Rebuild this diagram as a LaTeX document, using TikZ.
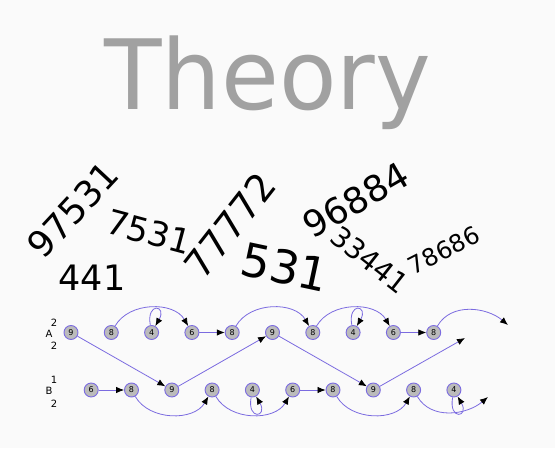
\documentclass[tikz,border=0pt]{standalone}
\usepackage{fontspec}
\setmainfont{DejaVu Sans}
\usetikzlibrary{arrows.meta}
\definecolor{linkc}{HTML}{7B6BE0}
\definecolor{numfill}{HTML}{BBBBBB}
\definecolor{bgc}{HTML}{FAFAFA}
\tikzset{
  num/.style={circle, fill=numfill, draw=linkc, line width=0.9pt, minimum size=14pt,
    inner sep=0pt, font=\fontsize{8}{8}\selectfont},
  link/.style={draw=linkc, line width=0.8pt, -{Latex[length=8pt,width=6.5pt,color=black]}},
  side/.style={font=\fontsize{10}{10}\selectfont, inner sep=0pt},
  big/.style={font=\fontsize{#1}{#1}\selectfont, inner sep=0pt}
}
\begin{document}
\begin{tikzpicture}[x=1pt,y=1pt]
  \fill[bgc] (0,0) rectangle (555,448);
  \useasboundingbox (0,0) rectangle (555,448);

  \node[big=97, xscale=0.97, text=black!37, anchor=base] (title) at (267.5,338) {Theory};

  \node[big=36, rotate=47] (n1) at (73,238) {97531};
  \node[big=35] (n2) at (92,170) {441};
  \node[big=34, rotate=-15] (n3) at (149,216) {7531};
  \node[big=38, rotate=52] (n4) at (230,223) {77772};
  \node[big=46, rotate=-12] (n5) at (285,181) {531};
  \node[big=36, rotate=30] (n6) at (356,248) {96884};
  \node[big=28, rotate=-38] (n7) at (370,188) {33441};
  \node[big=24, rotate=27] (n8) at (444,198) {78686};

  \node[side] (la) at (49,114) {A};
  \node[side] (la1) at (54,125.5) {2};
  \node[side] (la2) at (54,102) {2};
  \node[side] (lb) at (49,57.5) {B};
  \node[side] (lb1) at (54,68) {1};
  \node[side] (lb2) at (54,44) {2};

  \foreach \d [count=\i from 0] in {9,8,4,6,8,9,8,4,6,8}
    \node[num] (a\i) at ({71+40.3*\i},115.5) {\d};
  \foreach \d [count=\i from 0] in {6,8,9,8,4,6,8,9,8,4}
    \node[num] (b\i) at ({91.2+40.3*\i},58) {\d};

  \coordinate (atail) at (508,123);
  \coordinate (btail) at (465,110);
  \coordinate (ctail) at (488,51);

  \foreach \k in {0,5} {
    \pgfmathtruncatemacro\ka{\k+1}
    \pgfmathtruncatemacro\kb{\k+2}
    \pgfmathtruncatemacro\kc{\k+3}
    \pgfmathtruncatemacro\kd{\k+4}
    \draw[link] (a\k) -- (b\kb);
    \draw[link] (a\ka) to[out=60,in=120] (a\kc);
    \draw[link] (a\kb) to[out=100,in=60,min distance=24pt] (a\kb);
    \draw[link] (a\kc) -- (a\kd);
    \draw[link] (b\k) -- (b\ka);
    \draw[link] (b\ka) to[out=-60,in=-120] (b\kc);
    \draw[link] (b\kd) to[out=-100,in=-60,min distance=24pt] (b\kd);
  }
  \draw[link] (a4) to[out=60,in=120] (a6);
  \draw[link] (a9) to[out=60,in=140] (atail);
  \draw[link] (b2) -- (a5);
  \draw[link] (b7) -- (btail);
  \draw[link] (b3) to[out=-60,in=-120] (b5);
  \draw[link] (b8) to[out=-60,in=-140] (ctail);
\end{tikzpicture}
\end{document}
